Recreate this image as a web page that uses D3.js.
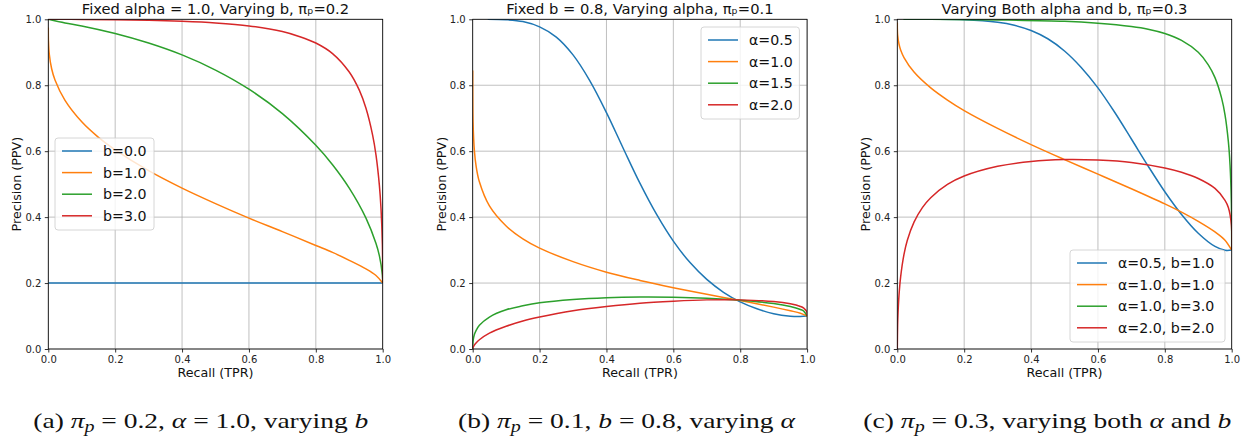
<!DOCTYPE html>
<html lang="en">

<head>
  <meta charset="UTF-8" />
  <title>PR curves</title>
  <script src="https://cdn.jsdelivr.net/npm/d3@7/dist/d3.min.js"></script>
  <style>
    body { margin: 0; background: #fff; }
    svg { display: block; }
  </style>
</head>

<body>
  <svg id="svg"></svg>
</body>

<script>
  // axis ticks (shared by all three panels)
  const tickValues = [0, 0.2, 0.4, 0.6, 0.8, 1.0];

  // (a) pi_p = 0.2, alpha = 1.0 -- [recall, precision]
  const a_b0 = [[0, 0.2], [1, 0.2]];
  const a_b1 = [[0, 0.975], [0.0005, 0.934], [0.003, 0.894], [0.01, 0.85], [0.02, 0.816], [0.05, 0.754],
    [0.1, 0.689], [0.15, 0.642], [0.2, 0.604], [0.3, 0.541], [0.4, 0.488], [0.5, 0.441], [0.6, 0.397],
    [0.7, 0.356], [0.8, 0.314], [0.85, 0.293], [0.9, 0.269], [0.95, 0.243], [0.98, 0.223], [1, 0.2]];
  const a_b2 = [[0, 1], [0.05, 0.989], [0.1, 0.98], [0.2, 0.957], [0.3, 0.928], [0.4, 0.892], [0.5, 0.846],
    [0.6, 0.788], [0.7, 0.714], [0.8, 0.618], [0.85, 0.559], [0.9, 0.488], [0.95, 0.397], [0.98, 0.32],
    [0.99, 0.283], [0.999, 0.225], [1, 0.2]];
  const a_b3 = [[0, 1], [0.1, 0.9996], [0.3, 0.997], [0.4, 0.994], [0.5, 0.989], [0.6, 0.98], [0.7, 0.963],
    [0.75, 0.948], [0.8, 0.928], [0.85, 0.896], [0.9, 0.84], [0.93, 0.785], [0.95, 0.73], [0.97, 0.648],
    [0.98, 0.588], [0.99, 0.497], [0.995, 0.425], [0.999, 0.318], [1, 0.2]];

  // (b) pi_p = 0.1, b = 0.8
  const b_a05 = [[0.045, 1], [0.1, 0.9986], [0.15, 0.993], [0.2, 0.977], [0.25, 0.946], [0.3, 0.892],
    [0.35, 0.814], [0.4, 0.717], [0.45, 0.609], [0.5, 0.503], [0.55, 0.408], [0.6, 0.327], [0.65, 0.262],
    [0.7, 0.211], [0.75, 0.172], [0.8, 0.143], [0.85, 0.122], [0.9, 0.107], [0.95, 0.0996], [0.98, 0.0987],
    [1, 0.1]];
  const b_a10 = [[0, 0.845], [0.0001, 0.782], [0.001, 0.69], [0.005, 0.602], [0.01, 0.556], [0.02, 0.507],
    [0.05, 0.434], [0.1, 0.373], [0.15, 0.334], [0.2, 0.306], [0.3, 0.265], [0.4, 0.233], [0.5, 0.208],
    [0.6, 0.186], [0.7, 0.166], [0.8, 0.147], [0.9, 0.127], [0.95, 0.116], [0.98, 0.1085], [1, 0.1]];
  const b_a15 = [[0, 0], [0.001, 0.023], [0.005, 0.044], [0.01, 0.056], [0.02, 0.072], [0.05, 0.097],
    [0.1, 0.119], [0.15, 0.131], [0.2, 0.14], [0.3, 0.15], [0.4, 0.1555], [0.5, 0.1576], [0.6, 0.157],
    [0.7, 0.154], [0.8, 0.148], [0.9, 0.138], [0.95, 0.129], [0.98, 0.12], [0.99, 0.115], [1, 0.1]];
  const b_a20 = [[0, 0], [0.001, 0.0043], [0.005, 0.012], [0.01, 0.0185], [0.02, 0.028], [0.05, 0.048],
    [0.1, 0.069], [0.15, 0.085], [0.2, 0.097], [0.3, 0.116], [0.4, 0.129], [0.5, 0.139], [0.6, 0.145],
    [0.7, 0.149], [0.8, 0.149], [0.9, 0.144], [0.95, 0.137], [0.98, 0.129], [0.99, 0.124], [0.999, 0.113],
    [1, 0.1]];

  // (c) pi_p = 0.3, both varying
  const c_a05b1 = [[0.02, 1], [0.1, 1], [0.2, 0.9987], [0.3, 0.991], [0.35, 0.982], [0.4, 0.966],
    [0.45, 0.941], [0.5, 0.904], [0.55, 0.854], [0.6, 0.792], [0.65, 0.718], [0.7, 0.637], [0.75, 0.555],
    [0.8, 0.477], [0.85, 0.408], [0.9, 0.351], [0.95, 0.311], [0.98, 0.2995], [1, 0.3]];
  const c_a10b1 = [[0, 0.99], [0.00001, 0.984], [0.0001, 0.973], [0.001, 0.952], [0.005, 0.925],
    [0.01, 0.907], [0.02, 0.884], [0.05, 0.84], [0.1, 0.792], [0.15, 0.755], [0.2, 0.723], [0.3, 0.669],
    [0.4, 0.62], [0.5, 0.5745], [0.6, 0.5305], [0.7, 0.486], [0.8, 0.44], [0.85, 0.415], [0.9, 0.387],
    [0.95, 0.355], [0.98, 0.33], [1, 0.3]];
  const c_a10b3 = [[0.018, 1], [0.1, 0.9998], [0.3, 0.998], [0.5, 0.994], [0.6, 0.988], [0.7, 0.978],
    [0.75, 0.97], [0.8, 0.957], [0.85, 0.936], [0.9, 0.9], [0.93, 0.862], [0.95, 0.823], [0.97, 0.76],
    [0.98, 0.71], [0.99, 0.629], [0.995, 0.559], [0.999, 0.444], [1, 0.3]];
  const c_a20b2 = [[0, 0], [0.001, 0.073], [0.002, 0.104], [0.005, 0.162], [0.01, 0.219], [0.02, 0.287],
    [0.03, 0.33], [0.05, 0.385], [0.075, 0.429], [0.1, 0.459], [0.15, 0.499], [0.2, 0.5245], [0.3, 0.554],
    [0.4, 0.569], [0.5, 0.5745], [0.6, 0.573], [0.7, 0.566], [0.8, 0.549], [0.85, 0.536], [0.9, 0.517],
    [0.95, 0.487], [0.98, 0.451], [0.99, 0.429], [0.999, 0.377], [1, 0.3]];

  const colors = ["#1f77b4", "#ff7f0e", "#2ca02c", "#d62728"];

  // caption pieces: [text, style] where 1 = italic math, 2 = italic subscript
  const panels = [
    {
      left: 48.3, title: "Fixed alpha = 1.0, Varying b, πₚ=0.2",
      series: [a_b0, a_b1, a_b2, a_b3],
      labels: ["b=0.0", "b=1.0", "b=2.0", "b=3.0"],
      legend: { x: 6.7, y: 118.7, w: 99 },
      capX: 33.3, capW: 335,
      caption: [["(a) "], ["π", 1], ["p", 2], [" = 0.2, "], ["α", 1], [" = 1.0, varying "], ["b", 1]],
    },
    {
      left: 472.7, title: "Fixed b = 0.8, Varying alpha, πₚ=0.1",
      series: [b_a05, b_a10, b_a15, b_a20],
      labels: ["α=0.5", "α=1.0", "α=1.5", "α=2.0"],
      legend: { x: 228.3, y: 7.7, w: 98.4 },
      capX: 458, capW: 337,
      caption: [["(b) "], ["π", 1], ["p", 2], [" = 0.1, "], ["b", 1], [" = 0.8, varying "], ["α", 1]],
    },
    {
      left: 897.3, title: "Varying Both alpha and b, πₚ=0.3",
      series: [c_a05b1, c_a10b1, c_a10b3, c_a20b2],
      labels: ["α=0.5, b=1.0", "α=1.0, b=1.0", "α=1.0, b=3.0", "α=2.0, b=2.0"],
      legend: { x: 172.7, y: 230.7, w: 155 },
      capX: 863.3, capW: 368,
      caption: [["(c) "], ["π", 1], ["p", 2], [" = 0.3, varying both "], ["α", 1], [" and "], ["b", 1]],
    },
  ];

  const width = 1246;
  const height = 440;
  const axTop = 19.3;
  const w = 334.4;
  const h = 329.7;
  const font = "DejaVu Sans";

  const svg = d3.select("#svg").attr("width", width).attr("height", height);

  const x = d3.scaleLinear().domain([0, 1]).range([0, w]);
  const y = d3.scaleLinear().domain([0, 1]).range([h, 0]);

  const line = d3.line()
    .x((d) => x(d[0]))
    .y((d) => y(d[1]))
    .curve(d3.curveCatmullRom.alpha(0.5));

  panels.forEach((p, pi) => {
    const g = svg.append("g").attr("transform", `translate(${p.left}, ${axTop})`);

    // grid
    g.append("g").selectAll("line").data(tickValues).join("line")
      .attr("x1", (d) => x(d)).attr("x2", (d) => x(d)).attr("y1", 0).attr("y2", h)
      .attr("stroke", "#b0b0b0").attr("stroke-width", 0.8);
    g.append("g").selectAll("line").data(tickValues).join("line")
      .attr("y1", (d) => y(d)).attr("y2", (d) => y(d)).attr("x1", 0).attr("x2", w)
      .attr("stroke", "#b0b0b0").attr("stroke-width", 0.8);

    // curves
    const clipId = "clip" + pi;
    g.append("clipPath").attr("id", clipId).append("rect").attr("width", w).attr("height", h);
    p.series.forEach((s, i) => {
      g.append("path")
        .attr("d", line(s))
        .attr("fill", "none")
        .attr("stroke", colors[i])
        .attr("stroke-width", 1.5)
        .attr("clip-path", `url(#${clipId})`);
    });

    // axes
    const xAxis = d3.axisBottom(x).tickValues(tickValues).tickFormat(d3.format(".1f"))
      .tickSize(3.5).tickPadding(3.5);
    const yAxis = d3.axisLeft(y).tickValues(tickValues).tickFormat(d3.format(".1f"))
      .tickSize(3.5).tickPadding(3.5);
    const gx = g.append("g").attr("transform", `translate(0, ${h})`).call(xAxis);
    const gy = g.append("g").call(yAxis);
    [gx, gy].forEach((a) => {
      a.select(".domain").remove();
      a.selectAll(".tick line").attr("stroke", "#000").attr("stroke-width", 0.8);
      a.selectAll(".tick text").attr("font-family", font).attr("font-size", 10).attr("fill", "#222");
    });

    // spines
    g.append("rect").attr("width", w).attr("height", h)
      .attr("fill", "none").attr("stroke", "#000").attr("stroke-width", 0.8);

    // labels
    g.append("text").text(p.title)
      .attr("x", w / 2).attr("y", -5.5).attr("text-anchor", "middle")
      .attr("font-family", font).attr("font-size", 14.7).attr("fill", "#111");
    g.append("text").text("Recall (TPR)")
      .attr("x", w / 2).attr("y", h + 28).attr("text-anchor", "middle")
      .attr("font-family", font).attr("font-size", 12.7).attr("fill", "#111");
    g.append("text").text("Precision (PPV)")
      .attr("transform", `translate(-27, ${h / 2}) rotate(-90)`).attr("text-anchor", "middle")
      .attr("font-family", font).attr("font-size", 12.7).attr("fill", "#111");

    // legend
    const lg = g.append("g").attr("transform", `translate(${p.legend.x}, ${p.legend.y})`);
    lg.append("rect").attr("width", p.legend.w).attr("height", 92).attr("rx", 3)
      .attr("fill", "#fff").attr("fill-opacity", 0.8).attr("stroke", "#cccccc").attr("stroke-width", 0.8);
    p.labels.forEach((lab, i) => {
      const ly = 13 + i * 21.6;
      lg.append("line").attr("x1", 7).attr("x2", 37).attr("y1", ly).attr("y2", ly)
        .attr("stroke", colors[i]).attr("stroke-width", 1.5);
      lg.append("text").text(lab).attr("x", 48).attr("y", ly + 5.2)
        .attr("font-family", font).attr("font-size", 14.2).attr("fill", "#111");
    });

    // caption (LaTeX-like, widened to the width it has in the figure)
    const cap = svg.append("text").attr("x", p.capX).attr("y", 428)
      .attr("font-family", "Liberation Serif").attr("font-size", 22).attr("fill", "#111")
      .attr("textLength", p.capW).attr("lengthAdjust", "spacingAndGlyphs");
    let shifted = false;
    p.caption.forEach(([t, k]) => {
      const ts = cap.append("tspan").text(t);
      if (k) ts.attr("font-style", "italic");
      if (k === 2) {
        ts.attr("font-size", 16).attr("dy", 3.5);
        shifted = true;
      } else if (shifted) {
        ts.attr("dy", -3.5);
        shifted = false;
      }
    });
  });
</script>

</html>
